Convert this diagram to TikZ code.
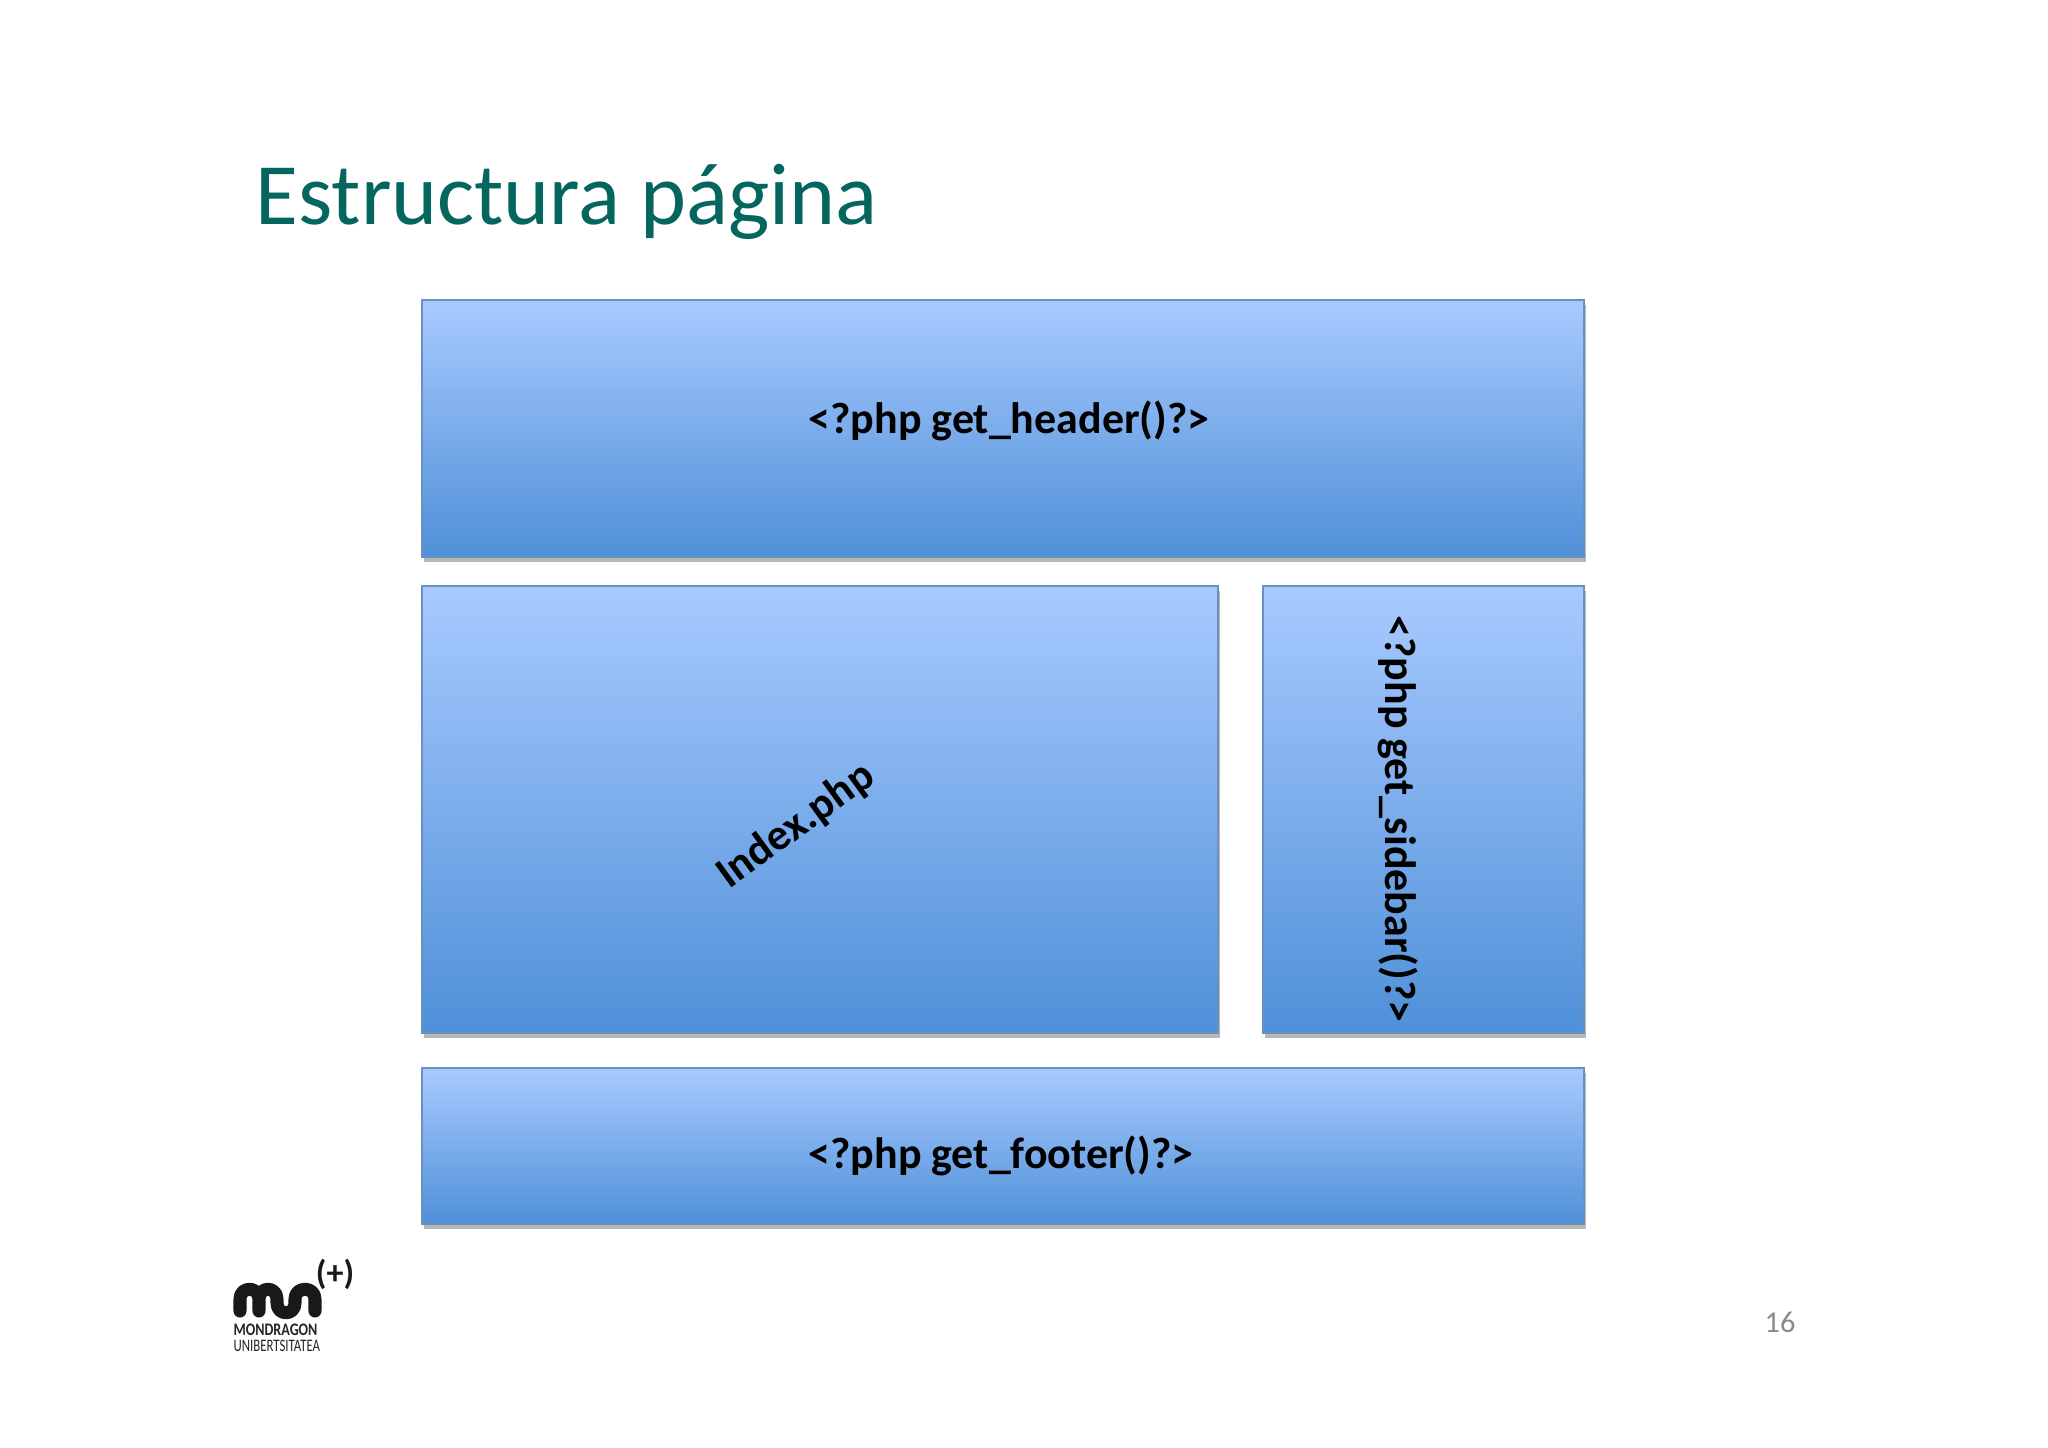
\documentclass[tikz,border=0pt]{standalone}
\usepackage{fontspec}
\setmainfont{Carlito}
\usetikzlibrary{shadows,calc}
\definecolor{TitleTeal}{HTML}{04665F}
\definecolor{BoxTop}{HTML}{A8CAFF}
\definecolor{BoxBottom}{HTML}{4F90D8}
\definecolor{BoxEdge}{HTML}{6A90C0}
\definecolor{PageGray}{HTML}{8A8A8A}
\tikzstyle{block} = [draw=BoxEdge,line width=0.2mm,top color=BoxTop,bottom color=BoxBottom,
drop shadow={shadow xshift=0.2mm,shadow yshift=-0.5mm,opacity=0.28,fill=black}]
\tikzstyle{code} = [font=\fontsize{12.5}{15}\selectfont\bfseries,text=black,inner sep=0pt]
\tikzstyle{logotext} = [anchor=west,inner sep=0pt,text=black!85,font=\fontsize{5}{6}\selectfont]
\begin{document}
\begin{tikzpicture}[x=0.01cm,y=-0.01cm]
            \useasboundingbox (0,0) rectangle (2048,1447);
            \fill[white] (0,0) rectangle (2048,1447);
            \node[anchor=base west,inner sep=0pt,text=TitleTeal,font=\fontsize{24.9}{30}\selectfont] (title) at (255,224) {Estructura página};
            \draw[block] (422,300) rectangle (1584,557);
            \draw[block] (422,586) rectangle (1218,1033);
            \draw[block] (1263,586) rectangle (1584,1033);
            \draw[block] (422,1068) rectangle (1584,1224);
            \node[code] (header) at (1009,421) {<?php get\_header()?>};
            \node[code,rotate=36] (index) at (796,826) {Index.php};
            \node[code,rotate=-90] (sidebar) at (1398,819) {<?php get\_sidebar()?>};
            \node[code] (footer) at (1001,1156) {<?php get\_footer()?>};
            \node[text=PageGray,inner sep=0pt,font=\fontsize{8.6}{10}\selectfont] (page) at (1780,1322) {16};
            \draw[line width=0.13cm,line cap=round,line join=round,black!90] (240,1311) -- (240,1299)
                .. controls (240,1286) and (259,1286) .. (259,1299) -- (259,1311) -- (259,1299)
                .. controls (259,1286) and (277,1286) .. (277,1299) -- (277,1303)
                .. controls (277,1316) and (295,1316) .. (295,1303) -- (295,1299)
                .. controls (295,1286) and (315,1286) .. (315,1299) -- (315,1311);
            \node[inner sep=0pt,font=\fontsize{9.7}{11}\selectfont\bfseries,text=black!90] (plus) at (335,1274) {(+)};
            \node[logotext,font=\fontsize{5}{6}\selectfont\bfseries,xscale=0.8] (mondragon) at (233,1330) {MONDRAGON};
            \node[logotext,xscale=0.73] (uni) at (233,1346) {UNIBERTSITATEA};
        \end{tikzpicture}
\end{document}
